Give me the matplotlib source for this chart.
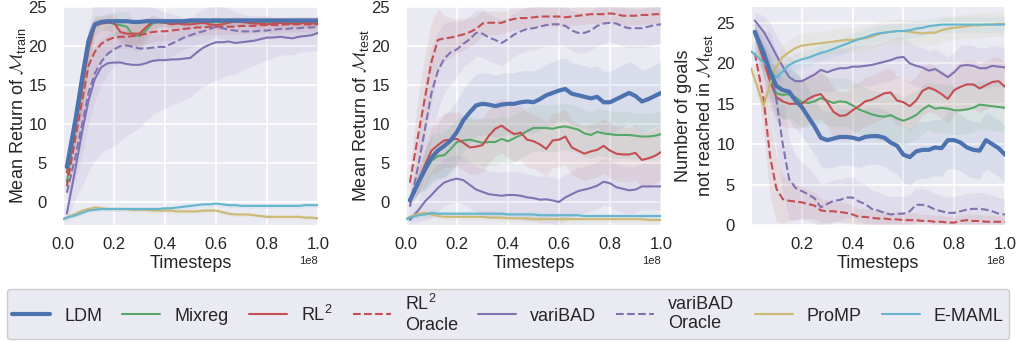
import numpy as np
import matplotlib.pyplot as plt
import seaborn as sns

nan = np.nan

# timesteps, in units of 1e8
STEPS = [0.0, 0.015, 0.05, 0.075, 0.1, 0.125, 0.15, 0.175, 0.2, 0.225, 0.25, 0.275,
         0.3, 0.325, 0.35, 0.375, 0.4, 0.425, 0.45, 0.475, 0.5, 0.525, 0.55, 0.575,
         0.6, 0.625, 0.65, 0.675, 0.7, 0.725, 0.75, 0.775, 0.8, 0.825, 0.85, 0.875,
         0.9, 0.925, 0.95, 0.975, 1.0]

METHODS = ["LDM", "Mixreg", "RL$^2$", "RL$^2$\nOracle", "variBAD", "variBAD\nOracle", "ProMP", "E-MAML"]
COLORS = ["#4C72B0", "#55A868", "#C44E52", "#C44E52", "#8172B2", "#8172B2", "#CCB974", "#64B5CD"]
STYLES = ["-", "-", "-", "--", "-", "--", "-", "-"]
WIDTHS = [3.0, 1.5, 1.5, 1.5, 1.5, 1.5, 1.5, 1.5]

# ---- Mean return on M_train ----
train_ldm = [nan, 4.5, 10.8, 15.9, 20.7, 22.8, 23.1, 23.2, 23.2, 23.2, 23.2, 23.1, 23.1, 23.2, 23.2, 23.2, 23.2, 23.2, 23.2, 23.2, 23.3,
             23.3, 23.3, 23.3, 23.3, 23.3, 23.3, 23.3, 23.3, 23.3, 23.3, 23.3, 23.3, 23.3, 23.3, 23.3, 23.3, 23.3, 23.3, 23.3, 23.3]
train_mixreg = [nan, 2.6, 9.6, 14.6, 19.6, 22.7, 23.2, 23.2, 22.8, 22.7, 22.5, 21.4, 21.3, 22.0, 22.9, 23.1, 23.0, 22.9, 23.0, 23.0, 23.1,
                23.1, 23.1, 23.1, 23.1, 23.1, 23.1, 23.1, 23.1, 23.1, 23.1, 23.1, 23.1, 23.1, 23.1, 23.1, 23.1, 23.1, 23.0, 23.0, 23.0]
train_rl2 = [nan, 3.8, 10.0, 14.8, 19.6, 22.6, 22.9, 23.0, 23.0, 21.8, 21.6, 21.6, 21.6, 22.4, 23.1, 23.1, 23.0, 22.8, 22.9, 22.8, 22.8,
             22.9, 23.0, 22.8, 22.7, 22.8, 23.0, 23.2, 23.1, 23.0, 22.9, 22.9, 22.8, 22.9, 23.0, 22.9, 22.9, 22.9, 23.0, 22.9, 22.9]
train_rl2_oracle = [nan, 2.0, 8.5, 13.0, 17.5, 19.3, 20.3, 20.8, 21.1, 21.2, 21.2, 21.3, 21.4, 21.6, 21.8, 21.9, 21.9, 22.0, 22.1, 22.2, 22.3,
                    22.4, 22.4, 22.5, 22.5, 22.5, 22.5, 22.5, 22.6, 22.6, 22.6, 22.7, 22.7, 22.7, 22.7, 22.8, 22.8, 22.8, 22.8, 22.8, 22.8]
train_varibad = [nan, -1.5, 4.5, 9.0, 13.0, 15.8, 17.3, 17.8, 17.9, 17.9, 17.7, 17.6, 17.6, 17.8, 18.1, 18.2, 18.2, 18.3, 18.3, 18.4, 18.5,
                 19.2, 19.8, 20.2, 20.5, 20.5, 20.6, 20.4, 20.5, 20.6, 20.7, 20.9, 21.1, 21.1, 21.2, 21.1, 21.0, 21.2, 21.3, 21.4, 21.7]
train_varibad_oracle = [nan, 1.2, 6.0, 10.0, 14.0, 16.5, 18.0, 19.0, 19.6, 20.0, 20.1, 19.9, 19.7, 19.7, 19.8, 19.9, 19.9, 20.3, 20.7, 21.1, 21.4,
                        21.7, 21.9, 22.2, 22.5, 22.3, 22.1, 22.0, 21.9, 21.9, 21.9, 22.0, 22.0, 22.1, 22.2, 22.2, 22.3, 22.3, 22.4, 22.4, 22.5]
train_promp = [-2.2, -2.0, -1.5, -1.1, -0.9, -0.7, -0.8, -0.9, -0.9, -0.9, -0.9, -1.0, -1.0, -1.0, -1.1, -1.1, -1.1, -1.1, -1.2, -1.2, -1.2,
               -1.2, -1.1, -1.1, -1.1, -1.3, -1.5, -1.6, -1.6, -1.6, -1.7, -1.8, -1.9, -1.9, -1.9, -1.9, -1.9, -1.9, -2.0, -2.0, -2.1]
train_emaml = [-2.2, -2.0, -1.7, -1.4, -1.1, -1.0, -0.9, -0.9, -0.9, -0.9, -0.9, -0.9, -0.9, -0.9, -0.9, -0.9, -0.8, -0.8, -0.7, -0.6, -0.5,
               -0.4, -0.3, -0.3, -0.2, -0.3, -0.4, -0.4, -0.5, -0.5, -0.5, -0.5, -0.5, -0.5, -0.5, -0.5, -0.5, -0.5, -0.4, -0.4, -0.4]

train_ldm_sd = [nan, 1.0, 2.0, 2.0, 1.5, 0.6, 0.4, 0.3, 0.3, 0.3, 0.3, 0.3, 0.3, 0.3, 0.3, 0.3, 0.3, 0.3, 0.3, 0.3, 0.3,
                0.3, 0.3, 0.3, 0.3, 0.3, 0.3, 0.3, 0.3, 0.3, 0.3, 0.3, 0.3, 0.3, 0.3, 0.3, 0.3, 0.3, 0.3, 0.3, 0.3]
train_mixreg_sd = [nan, 1.0, 2.5, 3.0, 2.5, 1.2, 0.8, 1.0, 1.6, 1.8, 2.0, 2.0, 1.9, 1.6, 1.0, 0.6, 0.5, 0.5, 0.5, 0.5, 0.4,
                   0.4, 0.4, 0.4, 0.4, 0.4, 0.4, 0.4, 0.4, 0.4, 0.4, 0.4, 0.4, 0.4, 0.4, 0.4, 0.4, 0.4, 0.4, 0.4, 0.4]
train_rl2_sd = [nan, 1.0, 2.5, 3.0, 2.5, 1.2, 0.9, 1.0, 1.2, 1.4, 1.5, 1.5, 1.4, 1.2, 0.8, 0.6, 0.6, 0.6, 0.6, 0.6, 0.6,
                0.6, 0.6, 0.6, 0.6, 0.6, 0.6, 0.6, 0.6, 0.6, 0.6, 0.6, 0.6, 0.6, 0.6, 0.6, 0.6, 0.6, 0.6, 0.6, 0.6]
train_rl2_oracle_sd = [nan, 1.0, 3.0, 3.5, 3.0, 2.5, 2.0, 1.8, 1.6, 1.5, 1.5, 1.4, 1.4, 1.3, 1.3, 1.2, 1.2, 1.2, 1.1, 1.1, 1.1,
                       1.1, 1.0, 1.0, 1.0, 1.0, 1.0, 1.0, 1.0, 1.0, 1.0, 1.0, 1.0, 1.0, 1.0, 1.0, 1.0, 1.0, 1.0, 1.0, 1.0]
train_varibad_sd = [nan, 1.0, 4.0, 7.0, 9.0, 10.5, 11.0, 11.0, 10.8, 10.0, 9.2, 8.6, 8.0, 7.4, 6.9, 6.5, 6.2, 5.9, 5.6, 5.3, 5.1,
                    5.0, 5.0, 4.9, 4.9, 4.6, 4.3, 4.0, 3.7, 3.4, 3.2, 3.0, 2.9, 2.6, 2.4, 2.2, 2.1, 2.0, 2.0, 2.1, 2.2]
train_varibad_oracle_sd = [nan, 1.0, 3.0, 4.0, 4.0, 3.5, 3.0, 2.5, 2.2, 2.0, 2.0, 1.9, 1.9, 1.8, 1.8, 1.7, 1.7, 1.6, 1.6, 1.5, 1.5,
                           1.5, 1.4, 1.4, 1.3, 1.3, 1.3, 1.2, 1.2, 1.2, 1.2, 1.1, 1.1, 1.1, 1.1, 1.0, 1.0, 1.0, 1.0, 1.0, 1.0]
train_promp_sd = [0.3, 0.3, 0.3, 0.3, 0.3, 0.3, 0.3, 0.3, 0.3, 0.3, 0.3, 0.3, 0.3, 0.3, 0.3, 0.3, 0.3, 0.3, 0.3, 0.3, 0.3,
                  0.3, 0.3, 0.3, 0.3, 0.3, 0.3, 0.3, 0.3, 0.3, 0.3, 0.3, 0.3, 0.3, 0.3, 0.3, 0.3, 0.3, 0.3, 0.3, 0.3]
train_emaml_sd = [0.3, 0.3, 0.3, 0.3, 0.3, 0.3, 0.3, 0.3, 0.3, 0.3, 0.3, 0.3, 0.3, 0.3, 0.3, 0.3, 0.3, 0.3, 0.3, 0.3, 0.3,
                  0.3, 0.3, 0.3, 0.3, 0.3, 0.3, 0.3, 0.3, 0.3, 0.3, 0.3, 0.3, 0.3, 0.3, 0.3, 0.3, 0.3, 0.3, 0.3, 0.3]

# ---- Mean return on M_test ----
test_ldm = [nan, 0.2, 2.6, 4.2, 5.7, 6.6, 7.2, 7.9, 9.0, 10.5, 11.5, 12.4, 12.6, 12.5, 12.3, 12.5, 12.6, 12.6, 12.8, 12.9, 12.8,
            13.2, 13.7, 14.0, 14.3, 14.5, 13.9, 13.7, 13.5, 13.3, 13.5, 12.8, 12.8, 13.2, 13.6, 14.0, 13.6, 12.9, 13.2, 13.6, 14.0]
test_mixreg = [nan, 0.3, 2.6, 4.0, 5.3, 5.9, 6.0, 6.8, 7.7, 7.9, 8.0, 7.8, 7.6, 7.7, 7.7, 8.1, 7.8, 8.2, 8.6, 9.1, 9.5,
               9.5, 9.5, 9.4, 9.6, 9.7, 9.5, 9.3, 8.8, 8.6, 9.0, 8.8, 8.7, 8.6, 8.6, 8.6, 8.5, 8.4, 8.4, 8.5, 8.7]
test_rl2 = [nan, 0.2, 2.8, 4.8, 6.6, 7.3, 7.9, 8.0, 8.1, 7.6, 7.0, 7.1, 7.3, 8.5, 9.4, 9.8, 9.2, 8.7, 8.9, 8.0, 7.8,
            7.4, 6.8, 7.9, 8.0, 8.4, 7.0, 6.6, 6.2, 6.5, 6.7, 7.2, 6.6, 6.2, 6.1, 6.1, 6.3, 5.4, 5.6, 5.9, 6.4]
test_rl2_oracle = [nan, 2.5, 9.0, 13.5, 18.0, 20.8, 21.0, 21.1, 21.3, 21.5, 21.8, 22.2, 22.9, 23.0, 23.0, 23.0, 23.3, 23.5, 23.6, 23.6, 23.7,
                   23.8, 23.8, 23.8, 23.8, 23.7, 23.8, 23.9, 24.0, 24.1, 24.1, 24.1, 24.2, 24.1, 23.9, 23.9, 23.9, 24.0, 24.0, 24.1, 24.1]
test_varibad = [nan, -2.3, -1.0, 0.1, 0.9, 1.8, 2.5, 2.8, 3.0, 2.8, 2.2, 1.6, 1.3, 1.0, 0.9, 0.8, 0.9, 0.9, 0.8, 0.6, 0.5,
                0.3, 0.35, 0.2, 0.0, 0.6, 1.0, 1.4, 1.6, 1.8, 2.1, 2.6, 2.4, 1.9, 1.7, 1.5, 1.6, 2.0, 2.0, 2.0, 2.0]
test_varibad_oracle = [nan, -0.6, 5.0, 9.5, 14.0, 16.8, 18.4, 19.2, 19.6, 20.3, 20.9, 21.7, 21.6, 21.1, 20.8, 20.4, 20.9, 21.5, 21.9, 22.2, 22.3,
                       22.5, 22.7, 22.8, 22.8, 22.6, 22.0, 21.7, 21.7, 22.0, 22.6, 22.9, 23.0, 22.9, 22.5, 22.3, 22.3, 22.3, 22.5, 22.7, 22.8]
test_promp = [-2.2, -1.9, -1.5, -1.4, -1.6, -1.8, -1.9, -1.9, -1.9, -1.9, -1.9, -1.9, -1.9, -2.0, -2.0, -2.0, -2.1, -2.1, -2.1, -2.1, -2.2,
              -2.2, -2.2, -2.2, -2.2, -2.2, -2.2, -2.2, -2.2, -2.2, -2.2, -2.2, -2.2, -2.2, -2.2, -2.2, -2.2, -2.2, -2.3, -2.3, -2.3]
test_emaml = [-2.2, -2.0, -1.7, -1.6, -1.4, -1.5, -1.5, -1.5, -1.5, -1.5, -1.5, -1.5, -1.5, -1.5, -1.5, -1.5, -1.6, -1.6, -1.6, -1.6, -1.6,
              -1.7, -1.7, -1.7, -1.7, -1.7, -1.7, -1.7, -1.8, -1.8, -1.8, -1.8, -1.8, -1.8, -1.8, -1.8, -1.8, -1.8, -1.8, -1.8, -1.8]

test_ldm_sd = [nan, 0.5, 1.5, 2.5, 3.0, 3.5, 4.0, 4.0, 4.0, 4.0, 4.0, 4.0, 4.0, 4.0, 4.0, 4.0, 4.0, 4.0, 4.0, 4.0, 4.0,
               4.0, 4.0, 4.0, 4.0, 4.0, 4.0, 4.0, 4.0, 4.0, 4.0, 4.0, 4.0, 4.0, 4.0, 4.0, 4.0, 4.0, 4.0, 4.0, 4.0]
test_mixreg_sd = [nan, 0.5, 1.5, 2.5, 3.0, 3.0, 3.0, 3.0, 3.0, 3.0, 3.0, 3.0, 3.0, 3.0, 3.0, 3.0, 3.0, 3.0, 3.0, 3.0, 3.0,
                  3.0, 3.0, 3.0, 3.0, 3.0, 3.0, 3.0, 3.0, 3.0, 3.0, 3.0, 3.0, 3.0, 3.0, 3.0, 3.0, 3.0, 3.0, 3.0, 3.0]
test_rl2_sd = [nan, 0.5, 1.5, 2.5, 3.0, 3.5, 3.5, 3.5, 3.5, 3.5, 3.5, 3.5, 3.5, 3.5, 3.5, 3.5, 3.5, 3.5, 3.5, 3.5, 3.5,
               3.5, 3.5, 3.5, 3.5, 3.5, 3.5, 3.5, 3.5, 3.5, 3.5, 3.5, 3.5, 3.5, 3.5, 3.5, 3.5, 3.5, 3.5, 3.5, 3.5]
test_rl2_oracle_sd = [nan, 2.0, 5.0, 5.5, 5.0, 4.0, 3.0, 2.5, 2.2, 2.0, 1.8, 1.7, 1.6, 1.5, 1.5, 1.4, 1.4, 1.4, 1.3, 1.3, 1.3,
                      1.3, 1.2, 1.2, 1.2, 1.2, 1.2, 1.2, 1.2, 1.2, 1.2, 1.2, 1.2, 1.2, 1.2, 1.2, 1.2, 1.2, 1.2, 1.2, 1.2]
test_varibad_sd = [nan, 0.5, 1.5, 2.5, 3.0, 3.0, 3.0, 3.0, 3.0, 3.0, 3.0, 3.0, 3.0, 3.0, 3.0, 3.0, 3.0, 3.0, 3.0, 3.0, 3.0,
                   3.0, 3.0, 3.0, 3.0, 3.0, 3.0, 3.0, 3.0, 3.0, 3.0, 3.0, 3.0, 3.0, 3.0, 3.0, 3.0, 3.0, 3.0, 3.0, 3.0]
test_varibad_oracle_sd = [nan, 1.0, 4.0, 6.0, 6.0, 5.0, 4.5, 4.0, 3.5, 3.0, 3.0, 3.0, 3.0, 3.0, 3.0, 3.0, 2.8, 2.8, 2.8, 2.8, 2.8,
                          2.7, 2.7, 2.7, 2.7, 2.6, 2.6, 2.6, 2.6, 2.5, 2.5, 2.5, 2.5, 2.5, 2.5, 2.5, 2.5, 2.5, 2.5, 2.5, 2.5]
test_promp_sd = [0.3, 0.4, 0.4, 0.4, 0.4, 0.4, 0.4, 0.4, 0.4, 0.4, 0.4, 0.4, 0.4, 0.4, 0.4, 0.4, 0.4, 0.4, 0.4, 0.4, 0.4,
                 0.4, 0.4, 0.4, 0.4, 0.4, 0.4, 0.4, 0.4, 0.4, 0.4, 0.4, 0.4, 0.4, 0.4, 0.4, 0.4, 0.4, 0.4, 0.4, 0.4]
test_emaml_sd = [0.3, 0.4, 0.4, 0.4, 0.4, 0.4, 0.4, 0.4, 0.4, 0.4, 0.4, 0.4, 0.4, 0.4, 0.4, 0.4, 0.4, 0.4, 0.4, 0.4, 0.4,
                 0.4, 0.4, 0.4, 0.4, 0.4, 0.4, 0.4, 0.4, 0.4, 0.4, 0.4, 0.4, 0.4, 0.4, 0.4, 0.4, 0.4, 0.4, 0.4, 0.4]

# ---- Number of goals not reached in M_test ----
goals_ldm = [nan, 23.9, 21.3, 19.0, 17.2, 16.7, 16.5, 15.4, 14.6, 13.4, 12.2, 10.8, 10.5, 10.7, 10.9, 10.9, 10.8, 10.6, 10.9, 11.0, 11.0,
             10.8, 10.2, 9.8, 8.7, 8.4, 9.1, 9.3, 9.3, 9.6, 9.5, 10.5, 10.5, 10.2, 9.6, 9.3, 9.2, 10.5, 10.0, 9.5, 8.7]
goals_mixreg = [nan, 23.6, 20.5, 18.0, 16.3, 16.1, 16.2, 15.8, 15.2, 15.1, 15.3, 15.7, 15.4, 15.1, 15.3, 15.2, 14.8, 14.3, 14.0, 13.7, 13.5,
                13.4, 13.6, 13.2, 12.9, 13.2, 13.6, 14.3, 14.8, 14.4, 14.5, 14.4, 14.2, 14.2, 14.3, 14.5, 14.9, 14.8, 14.7, 14.6, 14.5]
goals_rl2 = [nan, 24.0, 20.3, 17.8, 15.8, 15.3, 15.0, 15.0, 15.0, 15.6, 16.0, 16.2, 15.2, 14.0, 13.5, 13.6, 14.2, 14.7, 15.3, 15.5, 15.9,
             16.3, 16.4, 15.4, 15.2, 14.7, 15.4, 16.6, 17.0, 16.7, 16.2, 15.6, 16.7, 17.1, 17.4, 17.4, 16.9, 17.3, 17.7, 17.8, 17.1]
goals_rl2_oracle = [nan, 21.3, 15.5, 8.5, 4.5, 3.2, 3.0, 2.9, 2.8, 2.6, 2.4, 1.8, 1.7, 1.7, 1.6, 1.5, 1.3, 1.0, 1.0, 0.9, 0.8,
                    0.8, 0.7, 0.7, 0.6, 0.6, 0.6, 0.5, 0.5, 0.4, 0.4, 0.3, 0.3, 0.5, 0.6, 0.5, 0.5, 0.4, 0.4, 0.4, 0.4]
goals_varibad = [nan, 25.3, 23.9, 22.5, 21.0, 19.6, 18.3, 17.8, 17.8, 18.2, 18.6, 19.2, 18.9, 19.2, 19.4, 19.4, 19.6, 19.6, 19.7, 19.8, 20.0,
                 20.2, 20.4, 20.7, 20.8, 20.0, 19.7, 19.5, 19.1, 19.3, 18.8, 18.3, 18.9, 19.7, 19.8, 19.7, 19.4, 19.4, 19.7, 19.6, 19.5]
goals_varibad_oracle = [nan, 23.6, 21.0, 19.0, 15.5, 10.0, 5.7, 4.6, 4.2, 3.8, 3.3, 2.2, 2.6, 3.0, 3.1, 3.4, 3.4, 2.9, 2.6, 2.0, 1.8,
                        1.5, 1.3, 1.4, 1.4, 1.7, 2.5, 2.5, 2.3, 1.9, 1.7, 1.5, 1.5, 1.7, 1.9, 2.0, 2.0, 1.9, 1.7, 1.4, 1.3]
goals_promp = [19.4, 18.0, 14.7, 17.5, 19.6, 20.8, 21.4, 21.9, 22.2, 22.3, 22.4, 22.5, 22.6, 22.7, 22.8, 22.9, 22.9, 23.0, 23.1, 23.3, 23.6,
               23.8, 23.9, 24.0, 24.0, 23.9, 23.8, 23.7, 23.8, 23.8, 24.1, 24.3, 24.4, 24.5, 24.6, 24.7, 24.7, 24.8, 24.8, 24.9, 24.9]
goals_emaml = [21.5, 21.1, 20.1, 19.2, 18.2, 19.0, 19.8, 20.2, 20.5, 20.7, 21.0, 21.3, 21.5, 21.8, 22.1, 22.4, 22.7, 23.0, 23.2, 23.5, 23.7,
               23.8, 23.9, 24.0, 24.0, 24.1, 24.3, 24.4, 24.6, 24.7, 24.8, 24.8, 24.8, 24.8, 24.8, 24.8, 24.8, 24.8, 24.8, 24.8, 24.8]

goals_ldm_sd = [nan, 1.0, 2.0, 3.0, 3.5, 3.5, 3.5, 3.5, 3.5, 3.5, 3.5, 3.5, 3.5, 3.5, 3.5, 3.5, 3.5, 3.5, 3.5, 3.5, 3.5,
                3.5, 3.5, 3.5, 3.5, 3.5, 3.5, 3.5, 3.5, 3.5, 3.5, 3.5, 3.5, 3.5, 3.5, 3.5, 3.5, 3.5, 3.5, 3.5, 3.5]
goals_mixreg_sd = [nan, 1.0, 2.0, 3.0, 3.0, 3.0, 3.0, 3.0, 3.0, 3.0, 3.0, 3.0, 3.0, 3.0, 3.0, 3.0, 3.0, 3.0, 3.0, 3.0, 3.0,
                   3.0, 3.0, 3.0, 3.0, 3.0, 3.0, 3.0, 3.0, 3.0, 3.0, 3.0, 3.0, 3.0, 3.0, 3.0, 3.0, 3.0, 3.0, 3.0, 3.0]
goals_rl2_sd = [nan, 1.0, 2.0, 3.0, 3.0, 3.0, 3.0, 3.0, 3.0, 3.0, 3.0, 3.0, 3.0, 3.0, 3.0, 3.0, 3.0, 3.0, 3.0, 3.0, 3.0,
                3.0, 3.0, 3.0, 3.0, 3.0, 3.0, 3.0, 3.0, 3.0, 3.0, 3.0, 3.0, 3.0, 3.0, 3.0, 3.0, 3.0, 3.0, 3.0, 3.0]
goals_rl2_oracle_sd = [nan, 1.5, 4.0, 5.0, 4.0, 3.0, 2.5, 2.2, 2.0, 1.8, 1.6, 1.5, 1.4, 1.3, 1.2, 1.2, 1.1, 1.1, 1.0, 1.0, 1.0,
                       1.0, 0.9, 0.9, 0.9, 0.9, 0.9, 0.8, 0.8, 0.8, 0.8, 0.8, 0.8, 0.8, 0.8, 0.8, 0.8, 0.8, 0.8, 0.8, 0.8]
goals_varibad_sd = [nan, 1.0, 2.0, 2.5, 2.5, 2.5, 2.5, 2.5, 2.5, 2.5, 2.5, 2.5, 2.5, 2.5, 2.5, 2.5, 2.5, 2.5, 2.5, 2.5, 2.5,
                    2.5, 2.5, 2.5, 2.5, 2.5, 2.5, 2.5, 2.5, 2.5, 2.5, 2.5, 2.5, 2.5, 2.5, 2.5, 2.5, 2.5, 2.5, 2.5, 2.5]
goals_varibad_oracle_sd = [nan, 1.5, 3.0, 5.0, 6.0, 6.0, 5.0, 4.0, 3.5, 3.3, 3.0, 2.8, 2.7, 2.6, 2.6, 2.5, 2.5, 2.4, 2.4, 2.3, 2.3,
                           2.2, 2.2, 2.2, 2.1, 2.1, 2.1, 2.0, 2.0, 2.0, 2.0, 2.0, 2.0, 2.0, 2.0, 2.0, 2.0, 2.0, 2.0, 2.0, 2.0]
goals_promp_sd = [1.0, 1.2, 1.5, 1.5, 1.5, 1.5, 1.5, 1.5, 1.5, 1.5, 1.5, 1.5, 1.5, 1.5, 1.5, 1.5, 1.5, 1.5, 1.5, 1.5, 1.5,
                  1.5, 1.5, 1.5, 1.5, 1.5, 1.5, 1.5, 1.5, 1.5, 1.5, 1.5, 1.5, 1.5, 1.5, 1.5, 1.5, 1.5, 1.5, 1.5, 1.5]
goals_emaml_sd = [1.0, 1.0, 1.0, 1.0, 1.0, 1.0, 1.0, 1.0, 1.0, 1.0, 1.0, 1.0, 1.0, 1.0, 1.0, 1.0, 1.0, 1.0, 1.0, 1.0, 1.0,
                  1.0, 1.0, 1.0, 1.0, 1.0, 1.0, 1.0, 1.0, 1.0, 1.0, 1.0, 1.0, 1.0, 1.0, 1.0, 1.0, 1.0, 1.0, 1.0, 1.0]

TRAIN = [train_ldm, train_mixreg, train_rl2, train_rl2_oracle, train_varibad, train_varibad_oracle, train_promp, train_emaml]
TRAIN_SD = [train_ldm_sd, train_mixreg_sd, train_rl2_sd, train_rl2_oracle_sd, train_varibad_sd, train_varibad_oracle_sd,
            train_promp_sd, train_emaml_sd]
TEST = [test_ldm, test_mixreg, test_rl2, test_rl2_oracle, test_varibad, test_varibad_oracle, test_promp, test_emaml]
TEST_SD = [test_ldm_sd, test_mixreg_sd, test_rl2_sd, test_rl2_oracle_sd, test_varibad_sd, test_varibad_oracle_sd,
           test_promp_sd, test_emaml_sd]
GOALS = [goals_ldm, goals_mixreg, goals_rl2, goals_rl2_oracle, goals_varibad, goals_varibad_oracle, goals_promp, goals_emaml]
GOALS_SD = [goals_ldm_sd, goals_mixreg_sd, goals_rl2_sd, goals_rl2_oracle_sd, goals_varibad_sd, goals_varibad_oracle_sd,
            goals_promp_sd, goals_emaml_sd]


sns.set_style("darkgrid")
plt.rcParams["font.family"] = ["Liberation Sans", "DejaVu Sans"]
plt.rcParams["mathtext.fontset"] = "custom"
plt.rcParams["mathtext.rm"] = "Liberation Sans"
plt.rcParams["mathtext.cal"] = "cmsy10"
plt.rcParams["text.color"] = ".15"
plt.rcParams["axes.labelcolor"] = ".15"
plt.rcParams["xtick.color"] = ".15"
plt.rcParams["ytick.color"] = ".15"
plt.rcParams["grid.linewidth"] = 1.2


def draw_panel(ax, means, sds):
    x = np.array(STEPS) * 1e8
    for i in range(len(METHODS)):
        m = np.array(means[i])
        s = np.array(sds[i])
        ax.fill_between(x, m - s, m + s, color=COLORS[i], alpha=0.1, lw=0)
    lines = []
    for i in range(len(METHODS)):
        ln, = ax.plot(x, means[i], color=COLORS[i], ls=STYLES[i], lw=WIDTHS[i], label=METHODS[i],
                      zorder=5 if i == 0 else 4)
        lines.append(ln)
    ax.set_xlim(0, 1e8)
    ax.set_xlabel("Timesteps", fontsize=13, labelpad=2)
    ax.tick_params(axis="both", labelsize=12)
    ax.tick_params(axis="x", pad=5)
    ax.tick_params(axis="y", pad=8)
    ax.xaxis.get_offset_text().set_fontsize(8)
    return lines


fig = plt.figure(figsize=(10.23, 3.43), dpi=100)
ax1 = fig.add_axes([63 / 1023, 1 - 225 / 343, 255 / 1023, 219 / 343])
ax2 = fig.add_axes([406 / 1023, 1 - 225 / 343, 255 / 1023, 219 / 343])
ax3 = fig.add_axes([751 / 1023, 1 - 225 / 343, 254 / 1023, 219 / 343])

lines = draw_panel(ax1, TRAIN, TRAIN_SD)
ax1.set_ylim(-2.95, 25.15)
ax1.set_yticks([0, 5, 10, 15, 20, 25])
ax1.set_ylabel(r"Mean Return of $\mathcal{M}_{\mathrm{train}}$", fontsize=13, labelpad=0)

draw_panel(ax2, TEST, TEST_SD)
ax2.set_ylim(-2.95, 25.15)
ax2.set_yticks([0, 5, 10, 15, 20, 25])
ax2.set_ylabel(r"Mean Return of $\mathcal{M}_{\mathrm{test}}$", fontsize=13, labelpad=0)

draw_panel(ax3, GOALS, GOALS_SD)
ax3.set_ylim(0, 27.1)
ax3.set_yticks([0, 5, 10, 15, 20, 25])
ax3.set_xticks([0.2e8, 0.4e8, 0.6e8, 0.8e8, 1.0e8])
ax3.set_ylabel("Number of goals\n" + r"not reached in $\mathcal{M}_{\mathrm{test}}$", fontsize=13, labelpad=1)

fig.legend(lines, METHODS, loc="center", bbox_to_anchor=(0.4966, 0.0845), ncol=8, fontsize=13,
           frameon=True, facecolor="#EAEAF2", edgecolor="#CCCCCC", framealpha=1,
           handlelength=2.1, handletextpad=0.78, columnspacing=1.12, borderpad=0.3)

fig.savefig("out.png", dpi=100)
